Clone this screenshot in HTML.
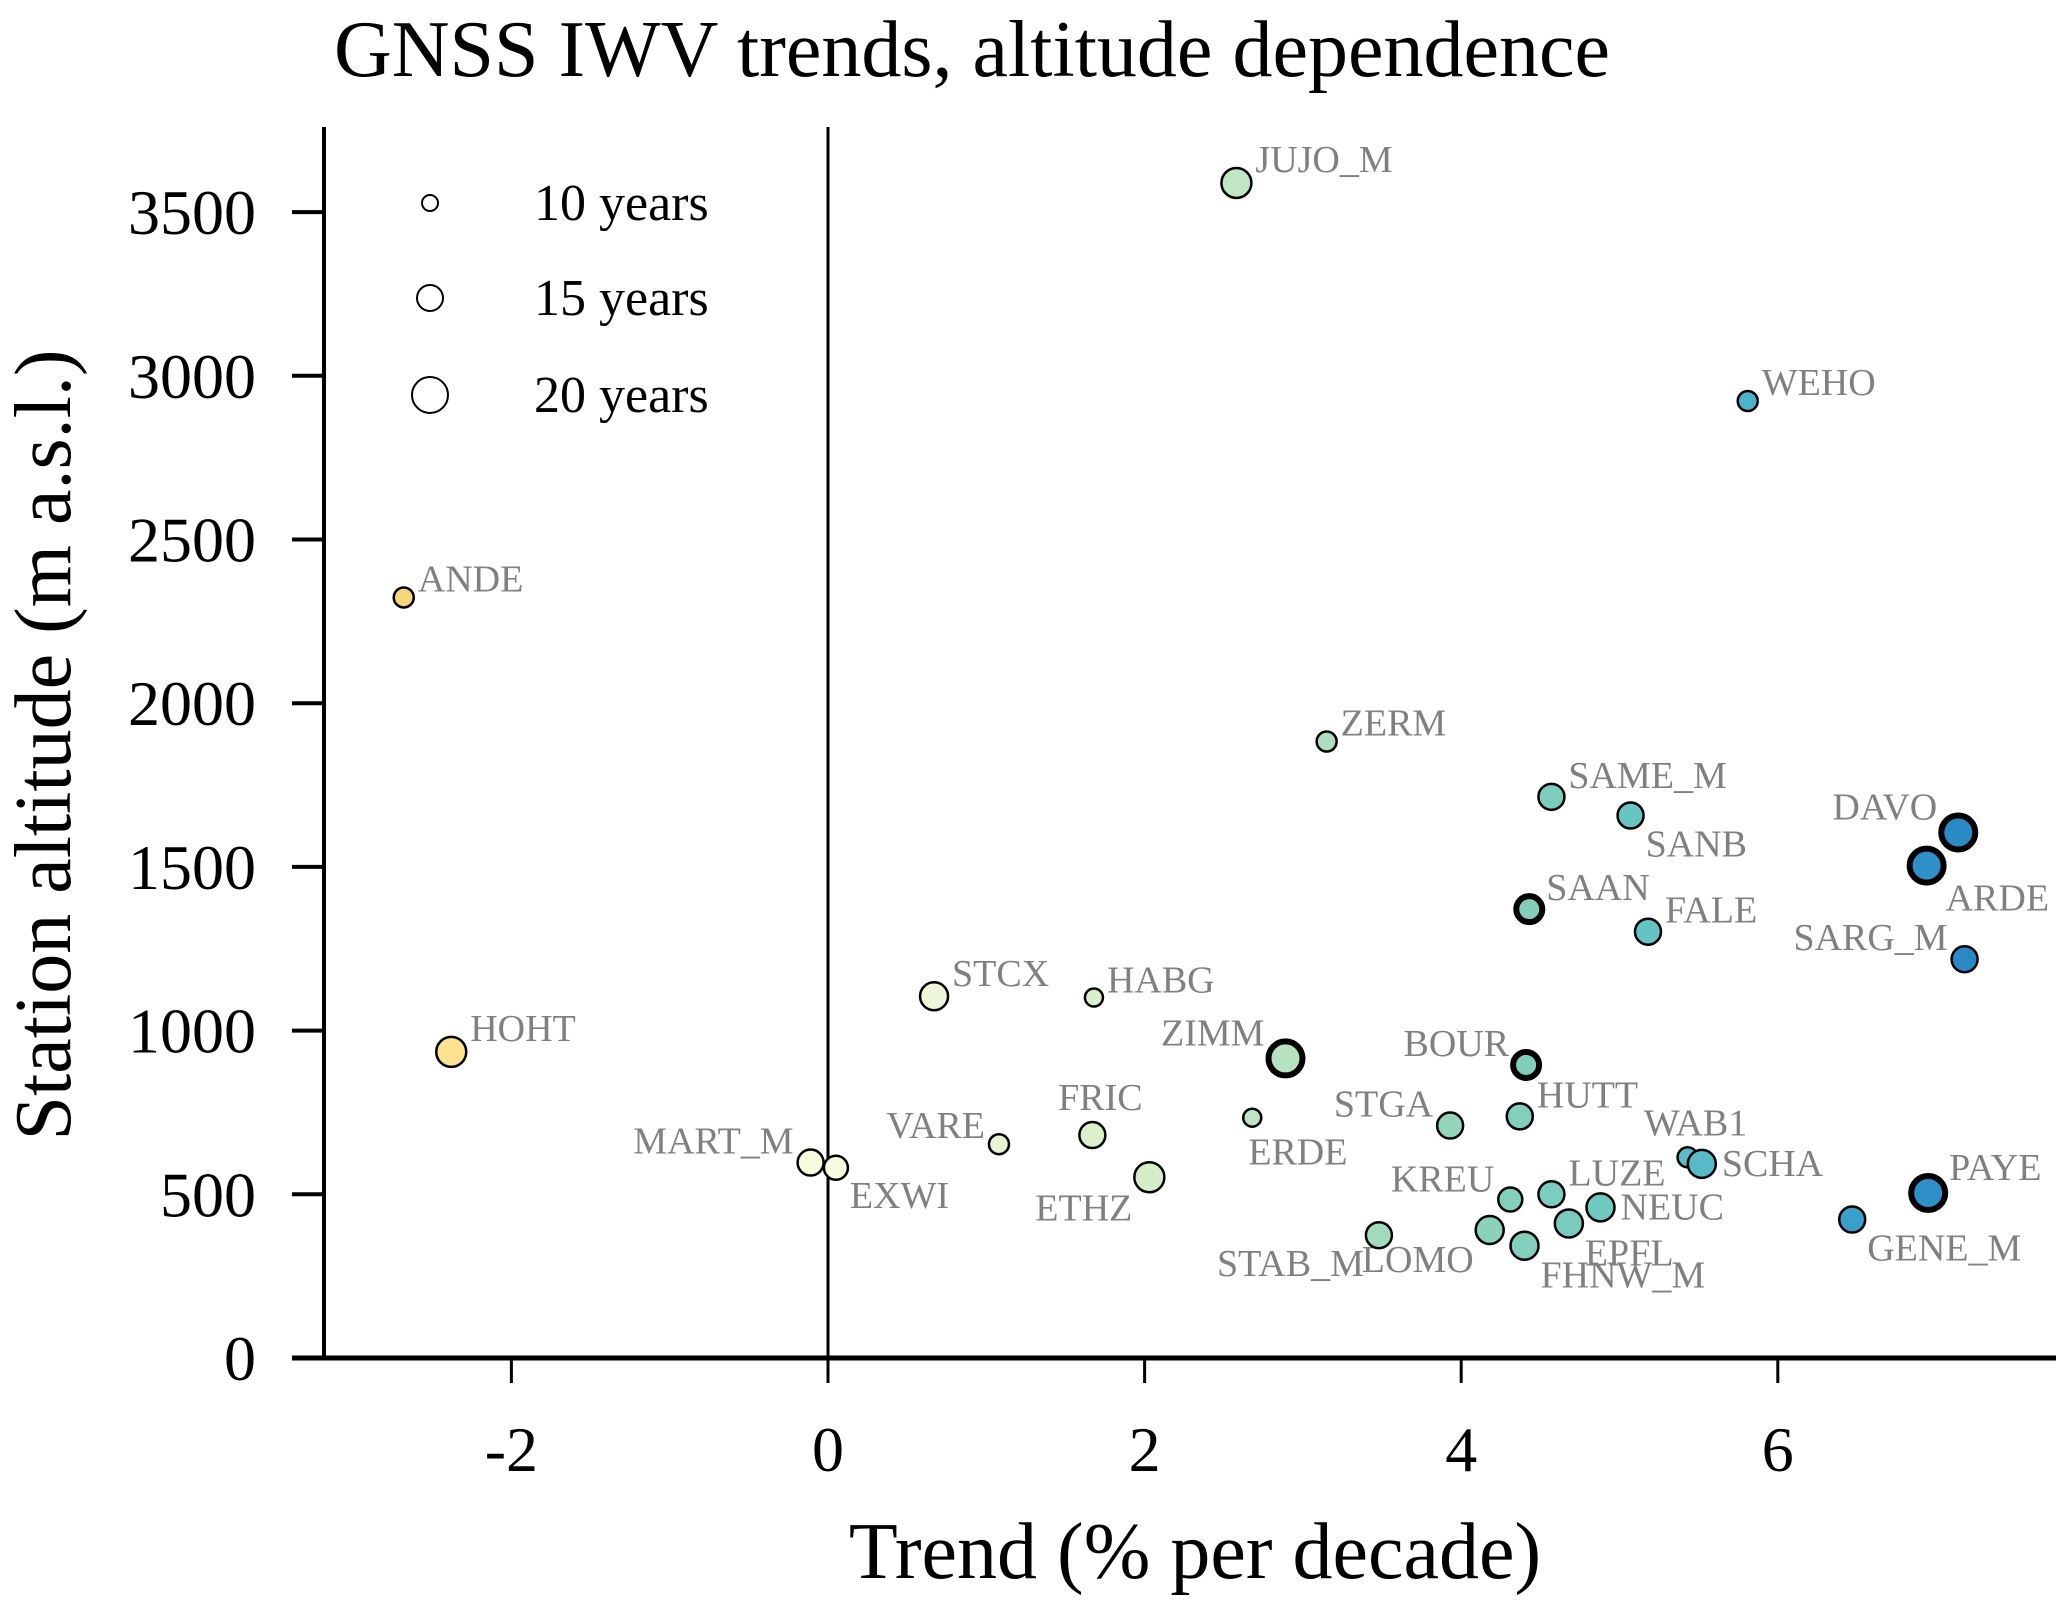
<!DOCTYPE html>
<html><head><meta charset="utf-8"><style>
html,body{margin:0;padding:0;background:#fff;}
svg{display:block;font-family:"Liberation Serif",serif;}
</style></head><body>
<svg id="chart" width="2067" height="1610" viewBox="0 0 2067 1610" xmlns="http://www.w3.org/2000/svg">
<text x="972" y="76" font-size="80" text-anchor="middle">GNSS IWV trends, altitude dependence</text>
<text transform="translate(70,745) rotate(-90)" font-size="80" text-anchor="middle">Station altitude (m a.s.l.)</text>
<text x="1195" y="1578" font-size="80" text-anchor="middle">Trend (% per decade)</text>
<g id="axes"></g>
<g id="points"></g>
<g id="legend"></g>
</svg>
<script>
const stations = ["JUJO_M","WEHO","ANDE","ZERM","SAME_M","SANB","DAVO","ARDE","SAAN","FALE","SARG_M","STCX","HABG","HOHT","ZIMM","BOUR","ERDE","STGA","HUTT","VARE","FRIC","WAB1","SCHA","MART_M","EXWI","ETHZ","KREU","LUZE","NEUC","PAYE","GENE_M","EPFL","LOMO","STAB_M","FHNW_M"];
const trends = [2.58,5.81,-2.68,3.15,4.57,5.07,7.14,6.94,4.43,5.18,7.18,0.67,1.68,-2.38,2.89,4.41,2.68,3.93,4.37,1.08,1.67,5.43,5.52,-0.11,0.05,2.03,4.31,4.57,4.88,6.95,6.47,4.68,4.18,3.48,4.40];
const altitudes = [3589,2923,2323,1883,1714,1657,1605,1504,1371,1302,1218,1105,1101,935,915,895,734,710,738,653,681,613,593,597,581,552,484,500,460,504,423,411,391,375,343];
const years = [16,11,11,11,14,14,18,18,14,14,14,15,10,16,18,14,10,14,14,11,14,11,15,14,13,16,13,14,15,18,14,15,15,14,15];
const bold = [0,0,0,0,0,0,1,1,1,0,0,0,0,0,1,1,0,0,0,0,0,0,0,0,0,0,0,0,0,1,0,0,0,0,0];
const labelPos = ["RA","RA","RA","RA","RA","RB","LA","RB","RA","RA","LA","RA","RA","RA","LA","LA","B","LA","RA","LA","A","A","R","LA","RB","LB","LA","RA","R","RA","RB","RB","LB","LB","RB"];
const xTicks = [-2,0,2,4,6];
const yTicks = [0,500,1000,1500,2000,2500,3000,3500];
const legendYears = [10,15,20];
const legendLabels = ["10 years","15 years","20 years"];

const NS="http://www.w3.org/2000/svg";
function X(t){return 828+t*158.3;}
function Y(a){return 1358-a*0.3274;}
function R(y){return 9+(y-10)*1.0;}
function mk(tag,attrs,parent){const e=document.createElementNS(NS,tag);for(const k in attrs)e.setAttribute(k,attrs[k]);parent.appendChild(e);return e;}
const stops=[[-3,[242,201,106]],[-2.4,[253,226,144]],[0,[248,251,226]],[2,[212,238,200]],[4,[144,212,184]],[5,[108,199,192]],[6,[69,174,208]],[7.2,[40,136,196]]];
function col(t){if(t<=stops[0][0])return 'rgb('+stops[0][1]+')';for(let i=1;i<stops.length;i++){if(t<=stops[i][0]){const a=stops[i-1],b=stops[i];const f=(t-a[0])/(b[0]-a[0]);return 'rgb('+a[1].map((v,j)=>Math.round(v+(b[1][j]-v)*f)).join(',')+')';}}return 'rgb('+stops[stops.length-1][1]+')';}

const ax=document.getElementById('axes');
let l=mk('line',{x1:324,y1:127,x2:324,y2:1360,stroke:'#000','stroke-width':4},ax);


l=mk('line',{x1:292,y1:1358,x2:2056,y2:1358,stroke:'#000','stroke-width':5},ax);


l=mk('line',{x1:X(0),y1:127,x2:X(0),y2:1383,stroke:'#000','stroke-width':3},ax);


xTicks.forEach(t=>{
  const tk=mk('line',{x1:X(t),y1:1358,x2:X(t),y2:1383,stroke:'#000','stroke-width':3},ax);
  
  
  const tx=mk('text',{x:X(t),y:1471,'font-size':64,'text-anchor':'middle'},ax);
  
  
  tx.textContent=t<0?'-'+Math.abs(t):String(t);
});
yTicks.forEach(v=>{
  const tk=mk('line',{x1:292,y1:Y(v),x2:324,y2:Y(v),stroke:'#000','stroke-width':4},ax);
  
  
  const tx=mk('text',{x:256,y:Y(v)+22,'font-size':64,'text-anchor':'end'},ax);
  
  
  tx.textContent=String(v);
});

const pg=document.getElementById('points');
stations.forEach((s,i)=>{
  const cx=X(trends[i]),cy=Y(altitudes[i]),r=R(years[i]);
  const c=mk('circle',{cx:cx,cy:cy,r:r,fill:col(trends[i]),stroke:'#000','stroke-width':bold[i]?6:2.5},pg);
  
  
  const p=labelPos[i];let x=cx,y=cy,anc='start';
  if(p==='RA'){x=cx+r+4;y=cy-r+4;}
  else if(p==='LA'){x=cx-r-4;y=cy-r+4;anc='end';}
  else if(p==='RB'){x=cx+r+2;y=cy+r+28;}
  else if(p==='LB'){x=cx-r-2;y=cy+r+28;anc='end';}
  else if(p==='R'){x=cx+r+6;y=cy+12;}
  else if(p==='A'){x=cx+8;y=cy-r-12;anc='middle';}
  else if(p==='B'){x=cx-4;y=cy+r+38;}
  const t=mk('text',{x:x,y:y,'font-size':38,fill:'#808080','text-anchor':anc},pg);
  
  
  t.textContent=s;
});

const lg=document.getElementById('legend');
const ly=[203,298,395];
legendYears.forEach((yv,i)=>{
  const c=mk('circle',{cx:430,cy:ly[i],r:R(yv)-1,fill:'#fff',stroke:'#000','stroke-width':2},lg);
  
  
  const t=mk('text',{x:534,y:ly[i]+17,'font-size':52},lg);
  
  
  t.textContent=legendLabels[i];
});
</script>
</body></html>
